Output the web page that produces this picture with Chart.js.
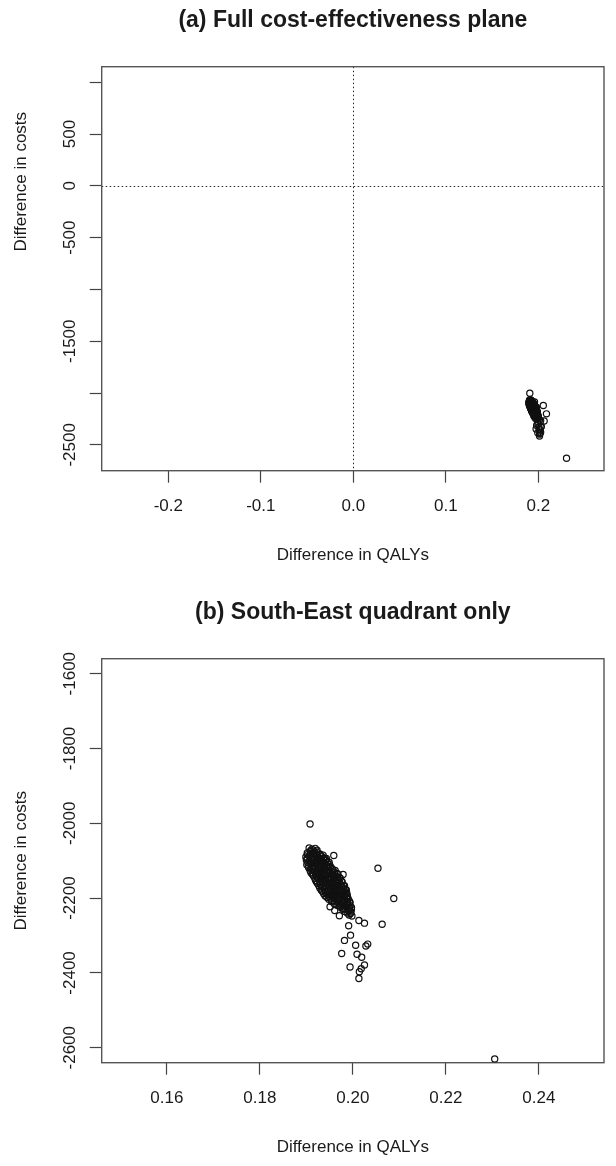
<!DOCTYPE html>
<html>
<head>
<meta charset="utf-8">
<script src="https://cdn.jsdelivr.net/npm/chart.js@4.4.1/dist/chart.umd.min.js"></script>
<style>
  html, body { margin: 0; padding: 0; background: #fff; }
  canvas { display: block; }
</style>
</head>
<body>
<canvas id="planeA" width="616" height="592"></canvas>
<canvas id="planeB" width="616" height="574"></canvas>
<script>
// incremental QALYs / costs per simulation
// (stragglers first, then the dense cloud row by row)
const qalyDiff = [
    0.1908, 0.1959, 0.1979, 0.2054, 0.2088, 0.2063, 0.1951, 0.1961, 0.1971, 0.2013,
    0.2025, 0.1991, 0.1995, 0.1982, 0.2006, 0.2028, 0.2032, 0.2009, 0.2019, 0.1976,
    0.2025, 0.2018, 0.1994, 0.2014, 0.2013, 0.2305,
    0.1906, 0.1912, 0.1919,
    0.1909, 0.1916, 0.1923,
    0.1902, 0.1909, 0.1916, 0.1923, 0.1929,
    0.1902, 0.1909, 0.1916, 0.1923, 0.1930, 0.1936,
    0.1899, 0.1906, 0.1913, 0.1920, 0.1927, 0.1934, 0.1939,
    0.1902, 0.1909, 0.1916, 0.1923, 0.1930, 0.1937, 0.1943,
    0.1900, 0.1907, 0.1914, 0.1921, 0.1928, 0.1935, 0.1942,
    0.1903, 0.1910, 0.1917, 0.1924, 0.1931, 0.1938, 0.1945, 0.1949,
    0.1901, 0.1908, 0.1915, 0.1922, 0.1929, 0.1936, 0.1943, 0.1950,
    0.1904, 0.1911, 0.1918, 0.1925, 0.1932, 0.1939, 0.1946, 0.1952,
    0.1905, 0.1912, 0.1919, 0.1926, 0.1933, 0.1940, 0.1947, 0.1955,
    0.1908, 0.1915, 0.1922, 0.1929, 0.1936, 0.1943, 0.1950, 0.1957, 0.1962,
    0.1910, 0.1917, 0.1924, 0.1931, 0.1938, 0.1945, 0.1952, 0.1960, 0.1966,
    0.1913, 0.1920, 0.1927, 0.1934, 0.1941, 0.1948, 0.1955, 0.1962, 0.1968,
    0.1915, 0.1922, 0.1929, 0.1936, 0.1943, 0.1950, 0.1957, 0.1964, 0.1971,
    0.1918, 0.1925, 0.1932, 0.1939, 0.1946, 0.1953, 0.1960, 0.1967, 0.1973,
    0.1920, 0.1927, 0.1934, 0.1941, 0.1948, 0.1955, 0.1962, 0.1969, 0.1976,
    0.1922, 0.1929, 0.1936, 0.1943, 0.1950, 0.1957, 0.1964, 0.1971, 0.1977,
    0.1924, 0.1931, 0.1938, 0.1945, 0.1952, 0.1959, 0.1966, 0.1973, 0.1980,
    0.1927, 0.1934, 0.1941, 0.1948, 0.1955, 0.1962, 0.1969, 0.1976, 0.1982,
    0.1929, 0.1936, 0.1943, 0.1950, 0.1957, 0.1964, 0.1971, 0.1978, 0.1984,
    0.1932, 0.1939, 0.1946, 0.1953, 0.1960, 0.1967, 0.1974, 0.1981, 0.1986,
    0.1934, 0.1941, 0.1948, 0.1955, 0.1962, 0.1969, 0.1976, 0.1983, 0.1987,
    0.1937, 0.1944, 0.1951, 0.1958, 0.1965, 0.1972, 0.1979, 0.1985,
    0.1940, 0.1947, 0.1954, 0.1961, 0.1968, 0.1975, 0.1982, 0.1988,
    0.1944, 0.1951, 0.1958, 0.1965, 0.1972, 0.1979, 0.1986, 0.1989,
    0.1948, 0.1955, 0.1962, 0.1969, 0.1976, 0.1983, 0.1990,
    0.1954, 0.1961, 0.1968, 0.1975, 0.1982, 0.1989, 0.1993,
    0.1960, 0.1967, 0.1974, 0.1981, 0.1988, 0.1994,
    0.1966, 0.1973, 0.1980, 0.1987, 0.1994,
    0.1972, 0.1979, 0.1986, 0.1993, 0.1997,
    0.1978, 0.1985, 0.1992, 0.1997,
    0.1983, 0.1990, 0.1996,
    0.1988, 0.1995,
    0.1992, 0.1998
];
const costDiff = [
    -2002, -2086, -2137, -2120, -2201, -2270, -2223, -2233, -2247, -2260,
    -2267, -2274, -2299, -2313, -2326, -2328, -2323, -2350, -2358, -2348,
    -2379, -2389, -2384, -2397, -2415, -2630,
    -2066, -2069, -2067,
    -2073, -2074, -2072,
    -2079, -2076, -2080, -2077, -2082,
    -2084, -2085, -2083, -2086, -2084, -2085,
    -2090, -2087, -2091, -2088, -2092, -2089, -2093,
    -2094, -2095, -2093, -2096, -2094, -2095, -2094,
    -2098, -2101, -2097, -2100, -2099, -2102, -2098,
    -2105, -2104, -2106, -2105, -2104, -2106, -2105, -2104,
    -2111, -2108, -2112, -2109, -2111, -2108, -2112, -2110,
    -2115, -2116, -2114, -2115, -2116, -2114, -2115, -2116,
    -2119, -2122, -2118, -2121, -2120, -2123, -2119, -2121,
    -2126, -2125, -2127, -2126, -2125, -2127, -2126, -2125, -2126,
    -2132, -2129, -2133, -2130, -2132, -2129, -2133, -2131, -2134,
    -2136, -2137, -2135, -2136, -2137, -2135, -2136, -2137, -2136,
    -2140, -2143, -2139, -2142, -2141, -2144, -2140, -2142, -2145,
    -2147, -2146, -2148, -2147, -2146, -2148, -2147, -2146, -2147,
    -2153, -2149, -2154, -2150, -2153, -2149, -2154, -2152, -2155,
    -2157, -2158, -2156, -2157, -2158, -2156, -2157, -2158, -2157,
    -2161, -2164, -2160, -2163, -2162, -2165, -2161, -2163, -2166,
    -2167, -2168, -2166, -2167, -2168, -2166, -2167, -2168, -2167,
    -2173, -2170, -2175, -2171, -2173, -2170, -2175, -2172, -2176,
    -2178, -2177, -2179, -2178, -2177, -2179, -2178, -2177, -2178,
    -2182, -2185, -2181, -2184, -2183, -2186, -2182, -2184, -2187,
    -2188, -2189, -2187, -2188, -2189, -2187, -2188, -2189,
    -2194, -2191, -2195, -2192, -2194, -2191, -2195, -2193,
    -2198, -2199, -2197, -2198, -2199, -2197, -2198, -2199,
    -2203, -2206, -2202, -2205, -2204, -2207, -2203,
    -2209, -2208, -2210, -2209, -2208, -2210, -2209,
    -2215, -2212, -2216, -2213, -2215, -2212,
    -2219, -2220, -2218, -2219, -2220,
    -2224, -2227, -2223, -2226, -2225,
    -2230, -2229, -2231, -2230,
    -2236, -2233, -2237,
    -2240, -2241,
    -2245, -2248
];

// panel (a): full plane
const xRangeA = [-0.272, 0.271];
const yRangeA = [-2750, 1150];
const xTicksA = [-0.2, -0.1, 0, 0.1, 0.2];
const xLabelsA = ["-0.2", "-0.1", "0.0", "0.1", "0.2"];
const yTicksA = [-2500, -2000, -1500, -1000, -500, 0, 500, 1000];
const yLabelsA = ["-2500", "", "-1500", "", "-500", "0", "500", ""];

// panel (b): south-east quadrant
const xRangeB = [0.146, 0.254];
const yRangeB = [-2640, -1560];
const xTicksB = [0.16, 0.18, 0.20, 0.22, 0.24];
const xLabelsB = ["0.16", "0.18", "0.20", "0.22", "0.24"];
const yTicksB = [-2600, -2400, -2200, -2000, -1800, -1600];
const yLabelsB = ["-2600", "-2400", "-2200", "-2000", "-1800", "-1600"];

const FONT = "'Liberation Sans', Arial, sans-serif";
const INK = "#1a1a1a";

// box round the plot region + dotted zero lines
const framePlugin = {
    id: "frame",
    beforeDatasetsDraw(chart, args, opts) {
        const { ctx, chartArea: a, scales } = chart;
        ctx.save();
        if (opts.zeroLines) {
            const x0 = Math.round(scales.x.getPixelForValue(0)) + 0.5;
            const y0 = Math.round(scales.y.getPixelForValue(0)) + 0.5;
            ctx.strokeStyle = "#222";
            ctx.lineWidth = 1;
            ctx.setLineDash([1.5, 2.5]);
            ctx.beginPath();
            ctx.moveTo(x0, a.top);
            ctx.lineTo(x0, a.bottom);
            ctx.moveTo(a.left, y0);
            ctx.lineTo(a.right, y0);
            ctx.stroke();
            ctx.setLineDash([]);
        }
        ctx.strokeStyle = "#555";
        ctx.lineWidth = 1.4;
        ctx.strokeRect(a.left, a.top, a.right - a.left, a.bottom - a.top);
        ctx.restore();
    }
};

// y axis title (R does not always centre it on the box)
const yTitlePlugin = {
    id: "yTitle",
    afterDraw(chart, args, opts) {
        const { ctx, chartArea: a, scales } = chart;
        const y = opts.at === null ? (a.top + a.bottom) / 2 : scales.y.getPixelForValue(opts.at);
        ctx.save();
        ctx.translate(opts.x, y);
        ctx.rotate(-Math.PI / 2);
        ctx.font = "17px " + FONT;
        ctx.fillStyle = INK;
        ctx.textAlign = "center";
        ctx.textBaseline = "middle";
        ctx.fillText(opts.text, 0, 0);
        ctx.restore();
    }
};

function tickGrid() {
    return { drawOnChartArea: false, drawTicks: true, tickLength: 12, tickColor: "#444", tickWidth: 1.2 };
}

function makePanel(id, p) {
    const canvas = document.getElementById(id);
    const points = qalyDiff.map((q, i) => ({ x: q, y: costDiff[i] }));

    return new Chart(canvas.getContext("2d"), {
        type: "scatter",
        data: {
            datasets: [{
                data: points,
                pointStyle: "circle",
                pointRadius: 3.1,
                pointBorderWidth: 1.2,
                borderColor: "#111",
                backgroundColor: "rgba(0,0,0,0)"
            }]
        },
        options: {
            responsive: false,
            animation: false,
            events: [],
            devicePixelRatio: 1,
            layout: { padding: { left: 0, right: 12, top: 0, bottom: canvas.height - 570.7 } },
            plugins: {
                legend: { display: false },
                tooltip: { enabled: false },
                title: {
                    display: true,
                    text: p.title,
                    fullSize: false,
                    color: INK,
                    font: { family: FONT, size: 23, weight: "bold" },
                    padding: { top: 7.2, bottom: 31.9 }
                },
                frame: { zeroLines: p.zeroLines },
                yTitle: { text: "Difference in costs", x: 21.7, at: p.yTitleAt }
            },
            scales: {
                x: {
                    type: "linear",
                    position: "bottom",
                    min: p.xRange[0],
                    max: p.xRange[1],
                    afterBuildTicks: s => { s.ticks = p.xTicks.map(v => ({ value: v })); },
                    afterFit: s => { s.height = 100; },
                    grid: tickGrid(),
                    border: { display: false },
                    ticks: {
                        autoSkip: false, maxRotation: 0, padding: 13, color: INK,
                        font: { family: FONT, size: 17 },
                        callback: (v, i) => p.xLabels[i]
                    },
                    title: {
                        display: true, text: "Difference in QALYs", color: INK,
                        font: { family: FONT, size: 17 },
                        padding: { top: 0, bottom: 5.5 }
                    }
                },
                y: {
                    type: "linear",
                    position: "left",
                    min: p.yRange[0],
                    max: p.yRange[1],
                    afterBuildTicks: s => { s.ticks = p.yTicks.map(v => ({ value: v })); },
                    afterFit: s => { s.width = 101.7; },
                    grid: tickGrid(),
                    border: { display: false },
                    ticks: {
                        autoSkip: false, minRotation: 90, maxRotation: 90,
                        crossAlign: "center", padding: -2, color: INK,
                        font: { family: FONT, size: 17 },
                        callback: (v, i) => p.yLabels[i]
                    }
                }
            }
        },
        plugins: [framePlugin, yTitlePlugin]
    });
}

makePanel("planeA", {
    title: "(a) Full cost-effectiveness plane",
    xRange: xRangeA, yRange: yRangeA,
    xTicks: xTicksA, xLabels: xLabelsA,
    yTicks: yTicksA, yLabels: yLabelsA,
    zeroLines: true, yTitleAt: 40
});

makePanel("planeB", {
    title: "(b) South-East quadrant only",
    xRange: xRangeB, yRange: yRangeB,
    xTicks: xTicksB, xLabels: xLabelsB,
    yTicks: yTicksB, yLabels: yLabelsB,
    zeroLines: false, yTitleAt: null
});
</script>
</body>
</html>
